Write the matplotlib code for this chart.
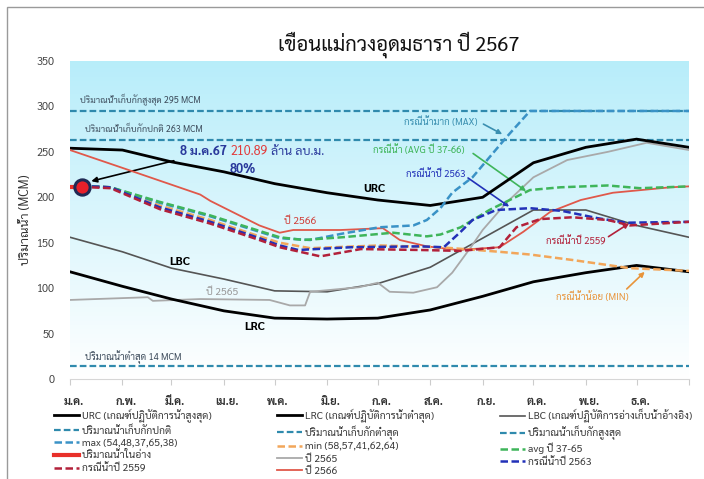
import matplotlib
matplotlib.use("Agg")
import matplotlib.pyplot as plt
import numpy as np
from matplotlib.lines import Line2D
from matplotlib.patches import Rectangle

plt.rcParams["font.family"] = ["Sarabun", "DejaVu Sans"]

# ---- data (day of year 2567, MCM) ----
months = ["ม.ค.", "ก.พ.", "มี.ค.", "เม.ย.", "พ.ค.", "มิ.ย.",
          "ก.ค.", "ส.ค.", "ก.ย.", "ต.ค.", "พ.ย.", "ธ.ค."]
month_day = [0, 31, 60, 91, 121, 152, 182, 213, 244, 274, 305, 335, 366]

urc_val = [254, 252, 239, 228, 215, 205, 197, 191, 200, 238, 255, 264, 255]
lrc_val = [118, 102, 88, 75, 67, 66, 67, 76, 91, 107, 117, 125, 118]
lbc_val = [156, 140, 122, 110, 97, 96, 105, 123, 155, 186, 186, 169, 156]

cap_max = 295
cap_normal = 263
cap_min = 14

y2565_day = [0, 46, 49, 77, 118, 124, 130, 139, 142, 171, 182, 189, 203, 217, 226, 237, 244, 258, 274, 294, 318, 341, 366]
y2565_val = [87, 90, 86, 88, 87, 84, 81, 81, 96, 101, 106, 96, 95, 101, 117, 145, 164, 194, 222, 241, 250, 260, 252]

y2566_day = [0, 30, 77, 83, 112, 124, 132, 160, 185, 195, 211, 229, 254, 268, 284, 302, 321, 355, 366]
y2566_val = [252, 233, 203, 196, 169, 161, 164, 164, 166, 153, 146, 142, 145, 162, 184, 197, 205, 211, 212]

avg_day = [0, 12, 24, 53, 83, 112, 124, 138, 161, 191, 211, 219, 231, 248, 272, 290, 318, 337, 366]
avg_val = [211, 212, 211, 195, 180, 163, 156, 153, 156, 161, 157, 159, 167, 186, 208, 211, 213, 210, 212]

max_day = [0, 12, 24, 53, 83, 112, 124, 142, 161, 183, 203, 211, 219, 226, 238, 258, 272, 366]
max_val = [211, 212, 211, 194, 179, 162, 155, 153, 160, 167, 169, 175, 188, 205, 222, 266, 295, 295]

min_day = [0, 12, 24, 53, 83, 112, 124, 142, 183, 219, 254, 272, 297, 331, 366]
min_val = [211, 212, 211, 191, 175, 157, 150, 144, 147, 145, 140, 137, 131, 122, 119]

y2563_day = [0, 12, 24, 53, 83, 112, 124, 135, 166, 207, 221, 231, 238, 252, 272, 291, 312, 329, 366]
y2563_val = [211, 212, 211, 189, 173, 155, 147, 142, 145, 146, 145, 162, 175, 186, 188, 185, 177, 172, 173]

y2559_day = [0, 12, 24, 53, 83, 112, 124, 148, 172, 207, 231, 254, 264, 278, 297, 318, 331, 366]
y2559_val = [211, 211, 210, 187, 171, 153, 145, 135, 143, 142, 141, 145, 167, 176, 178, 175, 169, 173]

cur_day = [0, 7]
cur_val = [210.89, 210.89]

# ---- figure ----
fig = plt.figure(figsize=(7.04, 4.79), dpi=100)
ax = fig.add_axes([70 / 704, 1 - 379 / 479, 619 / 704, 318 / 479])

# gradient background (light cyan on top fading to white)
grad = np.linspace(0, 1, 256).reshape(-1, 1)
top = np.array([0.72, 0.93, 0.98])
bot = np.array([1.0, 1.0, 1.0])
img = top * (1 - grad[..., None]) + bot * grad[..., None]
img = img.reshape(256, 1, 3)
ax.imshow(img, extent=[0, 366, 0, 350], aspect="auto", zorder=0, origin="upper")

DASH = (3, 1.4)
teal = "#2f8aad"

ax.axhline(cap_max, color=teal, lw=1.6, ls=(0, DASH), zorder=2)
ax.axhline(cap_normal, color=teal, lw=1.6, ls=(0, DASH), zorder=2)
ax.axhline(cap_min, color=teal, lw=1.6, ls=(0, DASH), zorder=2)

ax.plot(month_day, lbc_val, color="#555555", lw=1.2, zorder=3)
ax.plot(y2565_day, y2565_val, color="#a9a9a9", lw=1.3, zorder=3)
ax.plot(month_day, urc_val, color="black", lw=2.0, zorder=4)
ax.plot(month_day, lrc_val, color="black", lw=2.0, zorder=4)
ax.plot(y2566_day, y2566_val, color="#e0584a", lw=1.3, zorder=4)

ax.plot(min_day, min_val, color="#f2a65a", lw=1.8, ls=(0, DASH), zorder=5)
ax.plot(max_day, max_val, color="#3a92c6", lw=1.8, ls=(0, DASH), zorder=5)
ax.plot(avg_day, avg_val, color="#3fb55a", lw=1.8, ls=(0, DASH), zorder=5)
ax.plot(y2563_day, y2563_val, color="#2231b8", lw=1.8, ls=(0, DASH), zorder=5)
ax.plot(y2559_day, y2559_val, color="#b2213a", lw=1.8, ls=(0, DASH), zorder=5)

ax.plot(cur_day, cur_val, color="#e8302a", lw=3, zorder=6)
ax.plot(cur_day[-1], cur_val[-1], "o", ms=11, mfc="#e8202a", mec="#1f2a55", mew=2.2, zorder=7)

ax.set_xlim(0, 366)
ax.set_ylim(0, 350)
ax.set_yticks(range(0, 351, 50))
ax.set_xticks(month_day)
ax.set_xticklabels([])
ax.set_xticks([d + 2 for d in month_day[:-1]], minor=True)
ax.set_xticklabels(months, minor=True, fontsize=8, fontweight="bold", color="#333333")
ax.tick_params(axis="x", which="minor", length=0, pad=12)
ax.tick_params(axis="x", which="major", length=4, color="#cccccc")
ax.tick_params(axis="y", length=0, labelsize=8, colors="#444444", pad=11)
for s in ["top", "right", "left"]:
    ax.spines[s].set_visible(False)
ax.spines["bottom"].set_color("#d6d6d6")
ax.set_ylabel("ปริมาณน้ำ (MCM)", fontsize=9, color="#333333", labelpad=3)

# ---- labels inside the plot ----
ax.text(6, 307, "ปริมาณน้ำเก็บกักสูงสุด 295 MCM", fontsize=6.5, color="#3b4a5a", va="center")
ax.text(9, 275, "ปริมาณน้ำเก็บกักปกติ 263 MCM", fontsize=6.5, color="#3b4a5a", va="center")
ax.text(9, 24, "ปริมาณน้ำต่ำสุด 14 MCM", fontsize=6.8, color="#3b4a5a", va="center")

ax.text(65, 250, "8 ม.ค.67", fontsize=9, color="#2b3a9c", fontweight="bold", va="center")
ax.text(95, 250, "210.89", fontsize=9, color="#e23a3a", va="center")
ax.text(119, 250, "ล้าน ลบ.ม.", fontsize=9, color="#2b3a9c", va="center")
ax.text(102, 231, "80%", fontsize=9, color="#2b3a9c", fontweight="bold", ha="center", va="center")
ax.annotate("", xy=(11, 217), xytext=(63, 241),
            arrowprops=dict(arrowstyle="-|>", color="black", lw=1.2, mutation_scale=8))

ax.text(180, 209, "URC", fontsize=8.5, fontweight="bold", ha="center", va="center")
ax.text(65, 129, "LBC", fontsize=8.5, fontweight="bold", ha="center", va="center")
ax.text(109, 57, "LRC", fontsize=8.5, fontweight="bold", ha="center", va="center")
ax.text(136, 174, "ปี 2566", fontsize=7.5, color="#d0403a", ha="center", va="center")
ax.text(90, 96, "ปี 2565", fontsize=7.5, color="#9a9a9a", ha="center", va="center")


def callout(txt, xy_text, xy_tip, tail, color):
    ax.text(*xy_text, txt, fontsize=7, color=color, ha="center", va="center")
    ax.annotate("", xy=xy_tip, xytext=tail,
                arrowprops=dict(arrowstyle="-|>", color=color, lw=1.2, mutation_scale=7))


callout("กรณีน้ำมาก (MAX)", (219, 283), (257, 268), (243, 282), "#3a8fb0")
callout("กรณีน้ำ (AVG ปี 37-66)", (206, 252), (271, 205), (237, 250), "#3fb55a")
callout("กรณีน้ำปี 2563", (216, 226), (261, 188), (234, 223), "#2231b8")
callout("กรณีน้ำปี 2559", (299, 151), (332, 173), (317, 155), "#b2213a")
callout("กรณีน้ำน้อย (MIN)", (309, 91), (341, 120), (328, 97), "#e8943a")

fig.text(399 / 704, 1 - 45 / 479, "เขื่อนแม่กวงอุดมธารา ปี 2567", fontsize=14.5,
         ha="center", va="center", color="#111111")


# ---- legend in three fixed columns ----
def h(color, lw=1.8, dashed=False):
    return Line2D([], [], color=color, lw=lw, ls=(0, DASH) if dashed else "-")


col1 = [(h("black", 2), "URC (เกณฑ์ปฏิบัติการน้ำสูงสุด)"),
        (h(teal, 1.6, True), "ปริมาณน้ำเก็บกักปกติ"),
        (h("#3a92c6", 1.8, True), "max (54,48,37,65,38)"),
        (h("#e8302a", 3), "ปริมาณน้ำในอ่าง"),
        (h("#b2213a", 1.8, True), "กรณีน้ำปี 2559")]
col2 = [(h("black", 2), "LRC (เกณฑ์ปฏิบัติการน้ำต่ำสุด)"),
        (h(teal, 1.6, True), "ปริมาณน้ำเก็บกักต่ำสุด"),
        (h("#f2a65a", 1.8, True), "min (58,57,41,62,64)"),
        (h("#a9a9a9", 1.3), "ปี 2565"),
        (h("#e0584a", 1.3), "ปี 2566")]
col3 = [(h("#555555", 1.2), "LBC (เกณฑ์ปฏิบัติการอ่างเก็บน้ำอ้างอิง)"),
        (h(teal, 1.6, True), "ปริมาณน้ำเก็บกักสูงสุด"),
        (h("#3fb55a", 1.8, True), "avg ปี 37-65"),
        (h("#2231b8", 1.8, True), "กรณีน้ำปี 2563")]

for xpx, col in [(54, col1), (277, col2), (500, col3)]:
    leg = fig.legend([c[0] for c in col], [c[1] for c in col],
                     loc="upper left", bbox_to_anchor=(xpx / 704, 1 - 409 / 479),
                     frameon=False, fontsize=7.5, handlelength=2.4, handletextpad=0.3,
                     labelspacing=0.24, borderpad=0, borderaxespad=0)
    for t in leg.get_texts():
        t.set_color("#3a3a3a")

# outer frame
fig.add_artist(Rectangle((7 / 704, -0.01), 700 / 704, 1 - 7 / 479 + 0.01,
                         transform=fig.transFigure, fill=False, ec="#9a9a9a", lw=1.0))

fig.savefig("out.png", dpi=100)
